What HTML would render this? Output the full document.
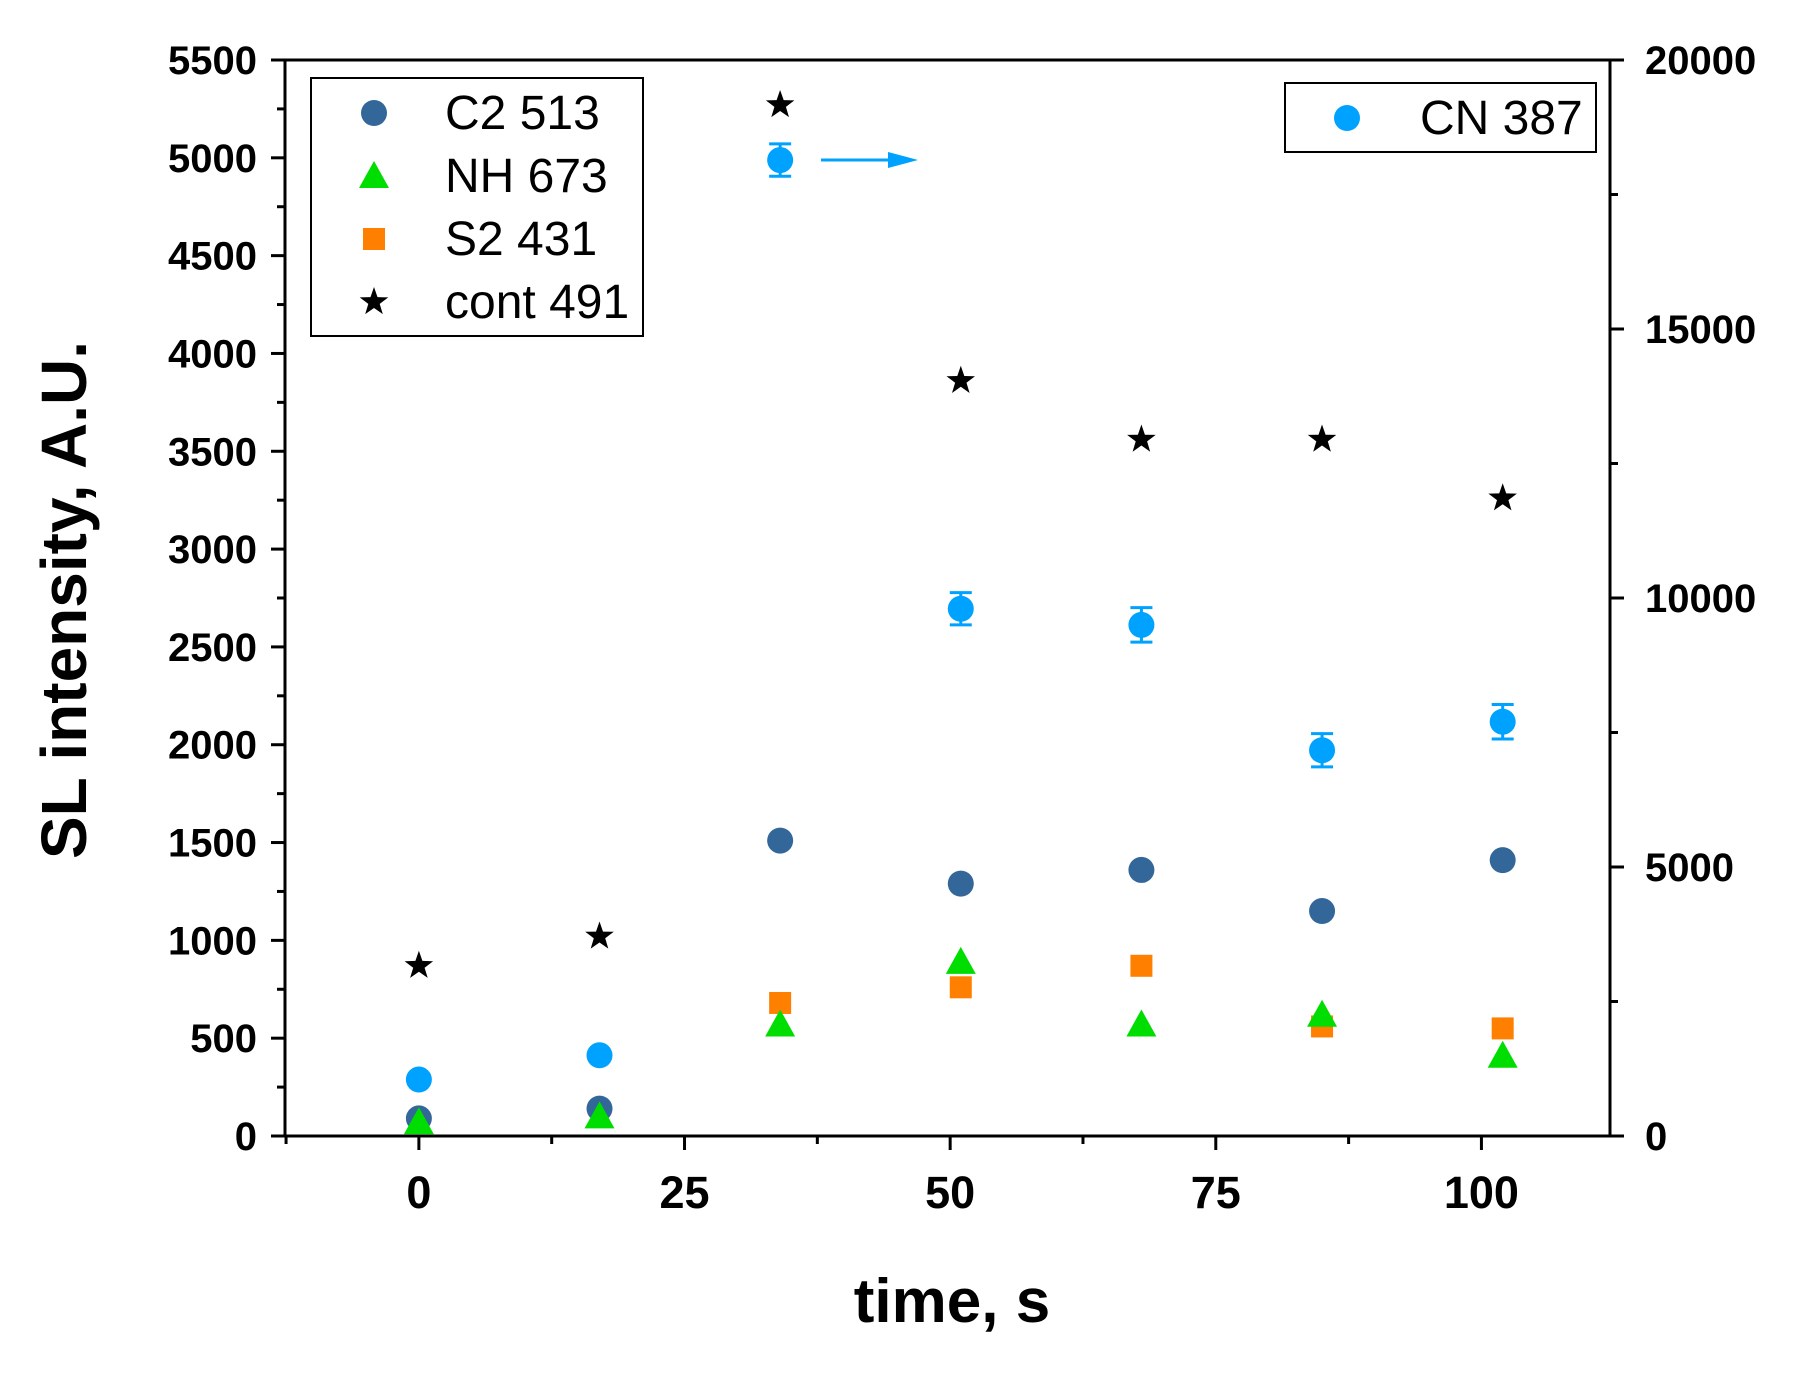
<!DOCTYPE html>
<html><head><meta charset="utf-8"><style>
html,body{margin:0;padding:0;background:#fff;}
svg text{font-family:"Liberation Sans",Arial,sans-serif;}
</style></head><body>
<svg id="chart" width="1805" height="1368" viewBox="0 0 1805 1368" xmlns="http://www.w3.org/2000/svg"></svg>
<script>
const times=[0,17,34,51,68,85,102];
const c2=[90,140,1510,1290,1360,1150,1410];
const nh=[70,100,570,890,570,620,410];
const s2=[null,null,680,760,870,560,550];
const cont=[870,1020,5270,3860,3560,3560,3260];
const cn=[1050,1500,18140,9800,9500,7170,7700];
const cnErr=[0,0,300,300,320,310,320];
const xTicks=[0,25,50,75,100];
const yLeftTicks=[0,500,1000,1500,2000,2500,3000,3500,4000,4500,5000,5500];
const yRightTicks=[0,5000,10000,15000,20000];

const L=285,R=1610,T=60,B=1136;
const X0=-12.6,X1=112.1;
const sx=v=>L+(v-X0)/(X1-X0)*(R-L);
const syL=v=>B-v/5500*(B-T);
const syR=v=>B-v/20000*(B-T);
const svg=document.getElementById('chart');
const NS='http://www.w3.org/2000/svg';
function mk(tag,attrs,parent){const e=document.createElementNS(NS,tag);for(const k in attrs)e.setAttribute(k,attrs[k]);(parent||svg).appendChild(e);return e;}

const frame=mk('rect',{x:L,y:T,width:R-L,height:B-T,fill:'none',stroke:'#000','stroke-width':3});



for(let v=-12.5;v<=112.5;v+=12.5){
  if(v<X0||v>X1)continue;
  const major=xTicks.includes(v);
  const t=mk('line',{x1:sx(v),x2:sx(v),y1:B,y2:B+(major?14:8),stroke:'#000','stroke-width':3});
  
  
}
xTicks.forEach(v=>{
  const t=mk('text',{x:sx(v),y:B+72,'text-anchor':'middle','font-size':45,'font-weight':'bold'});
  t.textContent=v;
  
  
});
for(let v=0;v<=5500;v+=250){
  const major=v%500===0;
  const t=mk('line',{x1:L,x2:L-(major?14:8),y1:syL(v),y2:syL(v),stroke:'#000','stroke-width':3});
  
  
}
yLeftTicks.forEach(v=>{
  const t=mk('text',{x:L-28,y:syL(v)+14,'text-anchor':'end','font-size':40,'font-weight':'bold'});
  t.textContent=v;
  
  
});
for(let v=0;v<=20000;v+=2500){
  const major=v%5000===0;
  const t=mk('line',{x1:R,x2:R+(major?14:8),y1:syR(v),y2:syR(v),stroke:'#000','stroke-width':3});
  
  
}
yRightTicks.forEach(v=>{
  const t=mk('text',{x:R+35,y:syR(v)+14,'text-anchor':'start','font-size':40,'font-weight':'bold'});
  t.textContent=v;
  
  
});
const xt=mk('text',{x:952,y:1322,'text-anchor':'middle','font-size':62,'font-weight':'bold'});
xt.textContent='time, s';


const yt=mk('text',{x:0,y:0,'text-anchor':'middle','font-size':64,'font-weight':'bold',transform:'translate(86,600) rotate(-90)'});
yt.textContent='SL intensity, A.U.';



function circle(x,y,col,name){const c=mk('circle',{cx:x,cy:y,r:13,fill:col});return c;}
function tri(x,y,col,name){const s=15;const p=mk('polygon',{points:`${x},${y-s} ${x+s},${y+s*0.8} ${x-s},${y+s*0.8}`,fill:col});return p;}
function sq(x,y,col,name){const r=mk('rect',{x:x-11,y:y-11,width:22,height:22,fill:col});return r;}
function star(x,y,col,name){let pts=[];for(let i=0;i<10;i++){const a=-Math.PI/2+i*Math.PI/5;const rr=i%2?6:15;pts.push((x+rr*Math.cos(a)).toFixed(1)+','+(y+rr*Math.sin(a)).toFixed(1));}const p=mk('polygon',{points:pts.join(' '),fill:col});return p;}

times.forEach((t,i)=>{
  const x=sx(t);
  if(cnErr[i]>0){
    const y1=syR(cn[i]+cnErr[i]),y2=syR(cn[i]-cnErr[i]);
    const e=mk('path',{d:`M${x},${y1}V${y2}M${x-11},${y1}H${x+11}M${x-11},${y2}H${x+11}`,stroke:'#00a2ff','stroke-width':3,fill:'none'});
    
    
  }
  circle(x,syR(cn[i]),'#00a2ff','cn-point');
  circle(x,syL(c2[i]),'#336699','c2-point');
  if(s2[i]!==null)sq(x,syL(s2[i]),'#ff8000','s2-point');
  tri(x,syL(nh[i]),'#00dd00','nh-point');
  star(x,syL(cont[i]),'#000','cont-point');
});

const ar=mk('line',{x1:821,y1:160,x2:895,y2:160,stroke:'#00a2ff','stroke-width':3});


const ah=mk('polygon',{points:'888,152 918,160 888,168',fill:'#00a2ff'});



const lg=mk('g',{});


mk('rect',{x:311,y:78,width:332,height:258,fill:'#fff',stroke:'#000','stroke-width':2},lg);
const ents=[['C2 513',circle,'#336699'],['NH 673',tri,'#00dd00'],['S2 431',sq,'#ff8000'],['cont 491',star,'#000']];
ents.forEach((e,i)=>{
  const y=113+i*63;
  e[1](374,y,e[2],'legend-marker');
  const t=mk('text',{x:445,y:y+16,'font-size':48},lg);
  t.textContent=e[0];
  
  
});
const lg2=mk('g',{});


mk('rect',{x:1285,y:83,width:311,height:69,fill:'#fff',stroke:'#000','stroke-width':2},lg2);
circle(1347,118,'#00a2ff','legend-marker');
const t2=mk('text',{x:1420,y:134,'font-size':48},lg2);
t2.textContent='CN 387';


</script>
</body></html>
